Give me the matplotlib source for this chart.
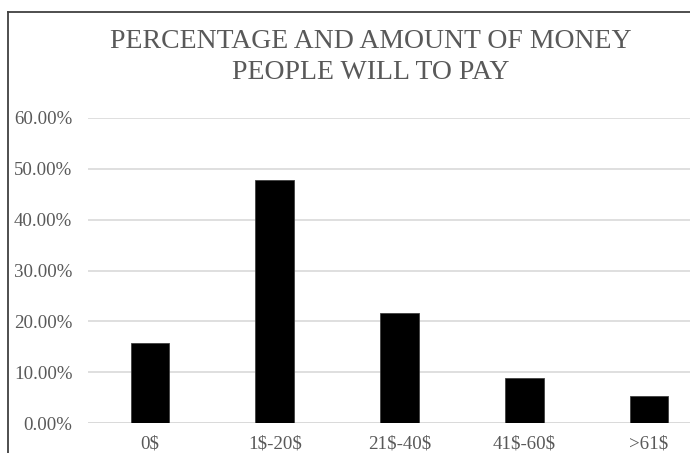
import matplotlib
matplotlib.use("Agg")
import matplotlib.pyplot as plt
from matplotlib.lines import Line2D
from matplotlib.ticker import PercentFormatter

# data
categories = ["0$", "1$-20$", "21$-40$", "41$-60$", ">61$"]
shares = [15.7, 47.9, 21.6, 8.8, 5.3]
yticks = [0, 10, 20, 30, 40, 50, 60]

plt.rcParams['text.parse_math'] = False
plt.rcParams['font.family'] = ['Liberation Serif', 'DejaVu Serif']

W, H = 690, 453
fig = plt.figure(figsize=(W / 100, H / 100), dpi=100)

# axes run past the right edge, the reference is cropped there
left, right, top, bottom = 87.6, 711.4, 118.0, 423.0
ax = fig.add_axes([left / W, 1 - bottom / H, (right - left) / W, (bottom - top) / H])

x = range(len(categories))
ax.bar(x, shares, width=0.31, color="black", edgecolor="#404040", linewidth=0.6, zorder=3)

ax.set_xlim(-0.5, len(categories) - 0.5)
ax.set_ylim(0, 60)
ax.set_yticks(yticks)
ax.yaxis.set_major_formatter(PercentFormatter(decimals=2))
ax.set_xticks(list(x))
ax.set_xticklabels(categories)
ax.grid(axis="y", color="#d9d9d9", linewidth=1.2, zorder=0)
ax.tick_params(axis="both", length=0, labelsize=13.6, labelcolor="#595959")
ax.tick_params(axis="y", pad=11)
ax.tick_params(axis="x", pad=9)
for s in ax.spines.values():
    s.set_visible(False)
ax.axhline(0, color="#d9d9d9", linewidth=1.2, zorder=1)

# title, two lines
fig.text(371 / W, 1 - 47.5 / H, "PERCENTAGE AND AMOUNT OF MONEY", ha="center", va="baseline",
         fontsize=20, color="#595959")
fig.text(371 / W, 1 - 79 / H, "PEOPLE WILL TO PAY", ha="center", va="baseline",
         fontsize=20, color="#595959")

# chart-area border (only left and top visible in the crop)
fig.add_artist(Line2D([8 / W, 8 / W], [-0.05, 1 - 12 / H], color="#404040", linewidth=1.3,
                      transform=fig.transFigure))
fig.add_artist(Line2D([8 / W, 1.05], [1 - 12 / H, 1 - 12 / H], color="#404040", linewidth=1.3,
                      transform=fig.transFigure))

fig.savefig("out.png", dpi=100, facecolor="white")
